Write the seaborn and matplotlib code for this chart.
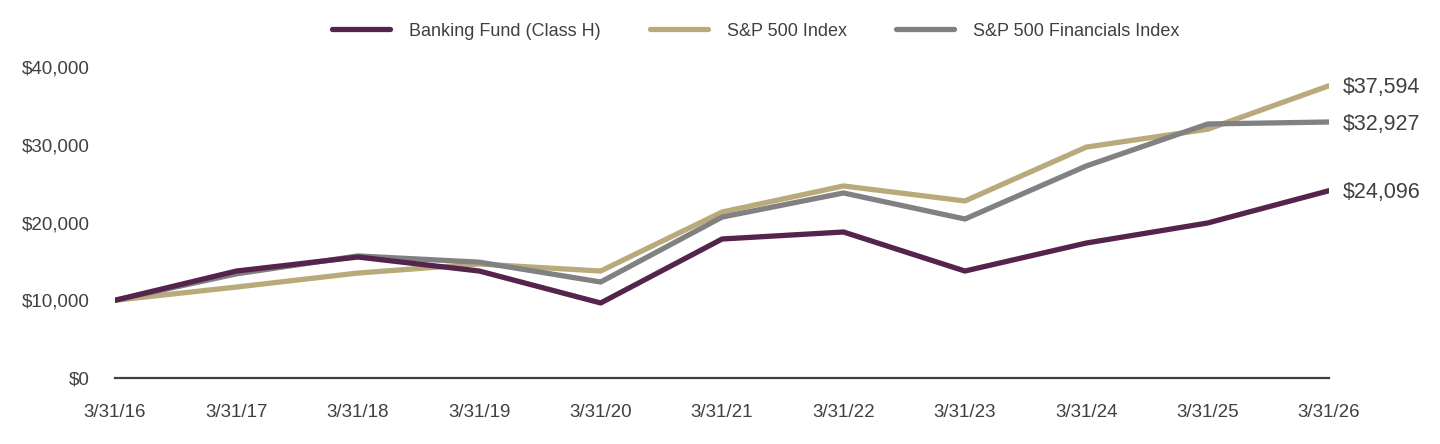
import pandas as pd
import matplotlib.pyplot as plt
import seaborn as sns
from matplotlib.ticker import FuncFormatter

# Values
dates = ['3/31/16', '3/31/17', '3/31/18', '3/31/19', '3/31/20', '3/31/21',
         '3/31/22', '3/31/23', '3/31/24', '3/31/25', '3/31/26']
banking = [10000, 13760, 15560, 13760, 9650, 17880, 18780, 13760, 17360, 19940, 24096]
sp500 = [10000, 11700, 13500, 14660, 13760, 21350, 24700, 22770, 29700, 32000, 37594]
financials = [10000, 13400, 15700, 14900, 12350, 20700, 23800, 20450, 27270, 32670, 32927]

series_names = ['Banking Fund (Class H)', 'S&P 500 Index', 'S&P 500 Financials Index']
colors = ['#54244c', '#b9aa7c', '#818184']

sns.set_theme(style='white')
plt.rcParams['font.family'] = ['Liberation Sans Narrow', 'Liberation Sans', 'DejaVu Sans']

df = pd.DataFrame({'idx': range(len(dates)),
                   series_names[0]: banking,
                   series_names[1]: sp500,
                   series_names[2]: financials})
long_df = df.melt(id_vars='idx', var_name='series', value_name='value')

fig = plt.figure(figsize=(14.4, 4.44), dpi=100)
ax = fig.add_axes([0.0799, 0.1486, 0.8431, 0.7005])

# draw in order so Banking Fund sits on top
for name, col, z in zip(series_names, colors, [3, 1, 2]):
    sub = long_df[long_df['series'] == name]
    sns.lineplot(data=sub, x='idx', y='value', color=col, linewidth=3.8,
                 ax=ax, label=name, zorder=z)

ax.set_xlim(0, len(dates) - 1)
ax.set_ylim(0, 40000)
ax.set_yticks([0, 10000, 20000, 30000, 40000])
ax.yaxis.set_major_formatter(FuncFormatter(lambda v, p: f'${v:,.0f}'))
ax.set_xticks(range(len(dates)))
ax.set_xticklabels(dates)
ax.set_xlabel('')
ax.set_ylabel('')
ax.tick_params(axis='both', length=0, labelsize=13.5, colors='#404040')
ax.tick_params(axis='x', pad=19)
ax.tick_params(axis='y', pad=18)
for s in ['top', 'right', 'left']:
    ax.spines[s].set_visible(False)
ax.spines['bottom'].set_color('#404040')
ax.spines['bottom'].set_linewidth(1.6)

# end labels
for vals in [banking, sp500, financials]:
    ax.annotate(f'${vals[-1]:,.0f}', xy=(len(dates) - 1, vals[-1]),
                xytext=(10, -1.5), textcoords='offset points', va='center',
                ha='left', fontsize=15.5, color='#404040',
                family=['Liberation Sans', 'DejaVu Sans'])

handles, labels = ax.get_legend_handles_labels()
ax.get_legend().remove()
leg = fig.legend(handles, labels, loc='center', bbox_to_anchor=(0.5247, 0.93),
                 ncol=3, frameon=False, fontsize=13, handlelength=3.2,
                 handletextpad=1.05, columnspacing=2.75)
for t in leg.get_texts():
    t.set_color('#404040')

fig.savefig('out.png', dpi=100)
